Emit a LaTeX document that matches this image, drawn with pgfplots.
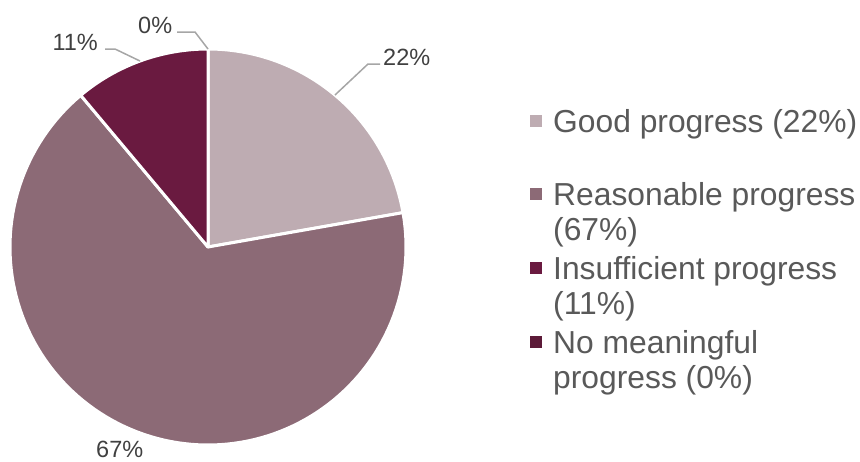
\documentclass[border=0pt]{standalone}
\usepackage{pgfplots}
\pgfplotsset{compat=1.18}
\usepackage{pgfplotstable}
\usepackage{fontspec}
\setmainfont{Liberation Sans}
\definecolor{cGood}{HTML}{BEACB2}
\definecolor{cReas}{HTML}{8C6A76}
\definecolor{cInsuf}{HTML}{6A1A40}
\definecolor{cNone}{HTML}{5C1A38}
\definecolor{lblgray}{HTML}{404040}
\definecolor{leggray}{HTML}{595959}
\definecolor{leadgray}{HTML}{A6A6A6}

\pgfplotstableread{
cat value
Good 2
Reasonable 6
Insufficient 1
None 0
}\piedata

\begin{document}
\begin{tikzpicture}
\pgfplotstablegetelem{0}{value}\of\piedata \pgfmathsetmacro\vA{\pgfplotsretval}
\pgfplotstablegetelem{1}{value}\of\piedata \pgfmathsetmacro\vB{\pgfplotsretval}
\pgfplotstablegetelem{2}{value}\of\piedata \pgfmathsetmacro\vC{\pgfplotsretval}
\pgfplotstablegetelem{3}{value}\of\piedata \pgfmathsetmacro\vD{\pgfplotsretval}
\pgfmathsetmacro\tot{\vA+\vB+\vC+\vD}
\pgfmathsetmacro\aA{90-360*\vA/\tot}
\pgfmathsetmacro\aB{\aA-360*\vB/\tot}
\pgfmathsetmacro\aC{\aB-360*\vC/\tot}
\begin{axis}[name=ax,
  scale only axis, width=860pt, height=461pt,
  xmin=0, xmax=860, ymin=0, ymax=461, y dir=reverse,
  hide axis, clip=false, enlargelimits=false]
% pie wedges (clockwise from 12 o'clock)
\addplot[fill=cGood, draw=white, line width=3pt, line join=round, domain=\aA:90, samples=60, variable=\t]
  ({208+198*cos(\t)},{247-198*sin(\t)}) -- (axis cs:208,247) -- cycle;
\addplot[fill=cReas, draw=white, line width=3pt, line join=round, domain=\aB:\aA, samples=120, variable=\t]
  ({208+198*cos(\t)},{247-198*sin(\t)}) -- (axis cs:208,247) -- cycle;
\addplot[fill=cInsuf, draw=white, line width=3pt, line join=round, domain=\aC:\aB, samples=40, variable=\t]
  ({208+198*cos(\t)},{247-198*sin(\t)}) -- (axis cs:208,247) -- cycle;
% leader lines
\addplot[leadgray, line width=1.5pt] coordinates {(335,95) (368,64) (380,64)};
\addplot[leadgray, line width=1.5pt] coordinates {(177,32) (195,32) (208,49)};
\addplot[leadgray, line width=1.5pt] coordinates {(105,49) (115,49) (140,61)};
% data labels
\node[anchor=base west, inner sep=0, text=lblgray, font=\fontsize{23.5}{28}\selectfont] at (axis cs:383,65.5) {22\%};
\node[anchor=base west, inner sep=0, text=lblgray, font=\fontsize{23.5}{28}\selectfont] at (axis cs:138,33.5) {0\%};
\node[anchor=base east, inner sep=0, text=lblgray, font=\fontsize{23.5}{28}\selectfont] at (axis cs:98,50) {11\%};
\node[anchor=base west, inner sep=0, text=lblgray, font=\fontsize{23.5}{28}\selectfont] at (axis cs:96,457) {67\%};
% legend markers
\addplot[only marks, mark=square*, mark size=5.5pt, mark options={fill=cGood, draw=cGood}] coordinates {(535.5,120.5)};
\addplot[only marks, mark=square*, mark size=5.5pt, mark options={fill=cReas, draw=cReas}] coordinates {(535.5,193.5)};
\addplot[only marks, mark=square*, mark size=5.5pt, mark options={fill=cInsuf, draw=cInsuf}] coordinates {(535.5,268)};
\addplot[only marks, mark=square*, mark size=5.5pt, mark options={fill=cNone, draw=cNone}] coordinates {(535.5,342)};
% legend text
\tikzset{legtxt/.style={anchor=base west, inner sep=0, text=leggray, font=\fontsize{31.8}{36}\selectfont}}
\node[legtxt] at (axis cs:553,132) {Good progress (22\%)};
\node[legtxt] at (axis cs:553,205) {Reasonable progress};
\node[legtxt] at (axis cs:553,240) {(67\%)};
\node[legtxt] at (axis cs:553,279.5) {Insufficient progress};
\node[legtxt] at (axis cs:553,314.5) {(11\%)};
\node[legtxt] at (axis cs:553,353.5) {No meaningful};
\node[legtxt] at (axis cs:553,388.5) {progress (0\%)};
\end{axis}
\pgfresetboundingbox
\path (ax.south west) rectangle (ax.north east);
\end{tikzpicture}
\end{document}
